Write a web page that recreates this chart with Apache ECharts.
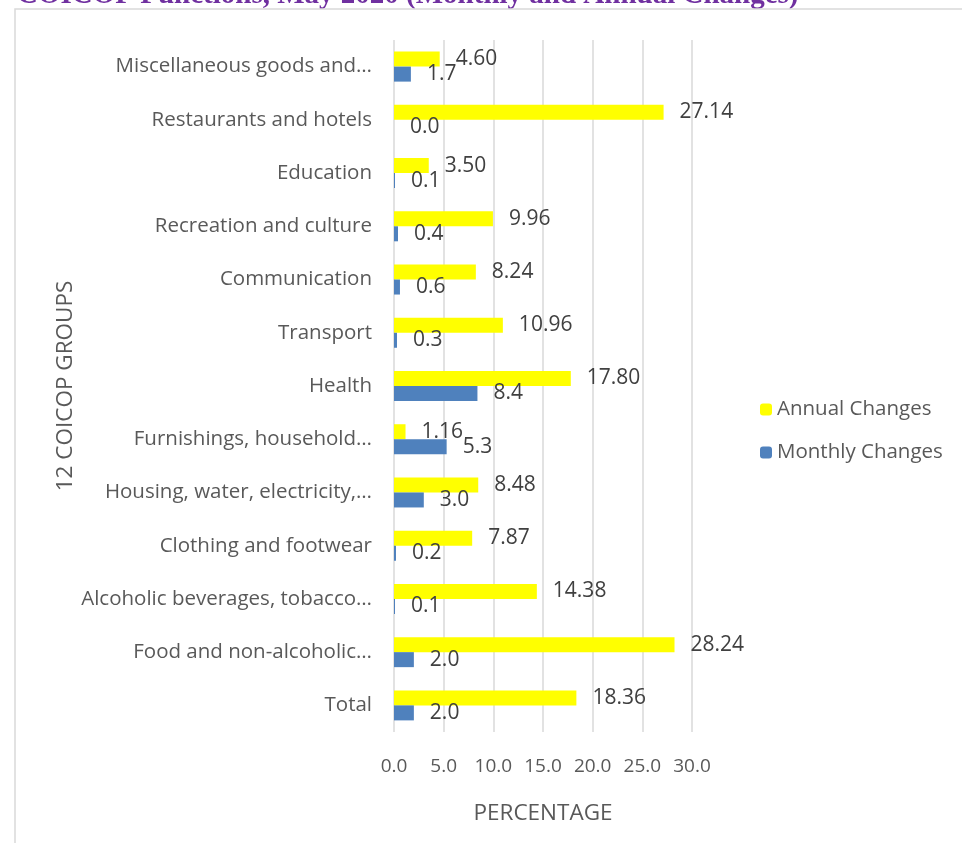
<!DOCTYPE html>
<html>
<head>
<meta charset="utf-8">
<script src="https://cdn.jsdelivr.net/npm/echarts@6/dist/echarts.min.js"></script>
<style>
  html, body { margin: 0; padding: 0; background: #fff; }
  #chart { width: 962px; height: 843px; }
</style>
</head>
<body>
<div id="chart"></div>
<script>
// categories listed bottom to top (category axis starts at the bottom)
const categories = [
  'Total',
  'Food and non-alcoholic…',
  'Alcoholic beverages, tobacco…',
  'Clothing and footwear',
  'Housing, water, electricity,…',
  'Furnishings, household…',
  'Health',
  'Transport',
  'Communication',
  'Recreation and culture',
  'Education',
  'Restaurants and hotels',
  'Miscellaneous goods and…'
];
const annualChanges = [18.36, 28.24, 14.38, 7.87, 8.48, 1.16, 17.80, 10.96, 8.24, 9.96, 3.50, 27.14, 4.60];
const monthlyChanges = [2.0, 2.0, 0.1, 0.2, 3.0, 5.3, 8.4, 0.3, 0.6, 0.4, 0.1, 0.0, 1.7];
const xTicks = { min: 0, max: 30, interval: 5 };

const FONT = 'Open Sans';
const chart = echarts.init(document.getElementById('chart'));

chart.setOption({
  animation: false,
  textStyle: { fontFamily: FONT },
  graphic: [
    {
      type: 'text',
      left: 17,
      top: -19,
      style: {
        text: 'COICOP Functions, May 2020 (Monthly and Annual Changes)',
        font: 'bold 29px "Liberation Serif"',
        fill: '#7030A0'
      }
    },
    {
      type: 'polyline',
      shape: { points: [[15, 843], [15, 9], [962, 9]] },
      style: { stroke: '#d9d9d9', lineWidth: 1.5, fill: null }
    }
  ],
  legend: {
    orient: 'vertical',
    left: 755,
    top: 394,
    itemWidth: 12,
    itemHeight: 12,
    itemGap: 22,
    data: ['Annual Changes', 'Monthly Changes'],
    textStyle: { fontSize: 20.5, color: '#595959', fontFamily: FONT }
  },
  grid: {
    left: 394,
    right: 270,
    top: 40,
    bottom: 111
  },
  xAxis: {
    type: 'value',
    min: xTicks.min,
    max: xTicks.max,
    interval: xTicks.interval,
    name: 'PERCENTAGE',
    nameLocation: 'middle',
    nameGap: 70,
    nameTextStyle: { fontSize: 22.5, color: '#595959' },
    axisLine: { show: false },
    axisTick: { show: false },
    axisLabel: {
      fontSize: 19,
      color: '#595959',
      margin: 25,
      formatter: v => v.toFixed(1)
    },
    splitLine: { show: true, lineStyle: { color: '#d9d9d9', width: 1.5 } }
  },
  yAxis: {
    type: 'category',
    data: categories,
    name: '12 COICOP GROUPS',
    nameLocation: 'middle',
    nameGap: 316,
    nameTextStyle: { fontSize: 22.5, color: '#595959' },
    axisLine: { show: false },
    axisTick: { show: false },
    axisLabel: { fontSize: 20.5, color: '#595959', margin: 22 }
  },
  series: [
    {
      name: 'Annual Changes',
      type: 'bar',
      data: annualChanges,
      barWidth: 15,
      barGap: '0%',
      itemStyle: { color: '#FFFF00' },
      label: {
        show: true,
        position: 'right',
        distance: 16,
        fontSize: 21,
        color: '#404040',
        formatter: p => p.value.toFixed(2)
      }
    },
    {
      name: 'Monthly Changes',
      type: 'bar',
      data: monthlyChanges,
      barWidth: 15,
      barGap: '0%',
      itemStyle: { color: '#4F81BD' },
      label: {
        show: true,
        position: 'right',
        distance: 16,
        fontSize: 21,
        color: '#404040',
        formatter: p => p.value.toFixed(1)
      }
    }
  ]
});
</script>
</body>
</html>
